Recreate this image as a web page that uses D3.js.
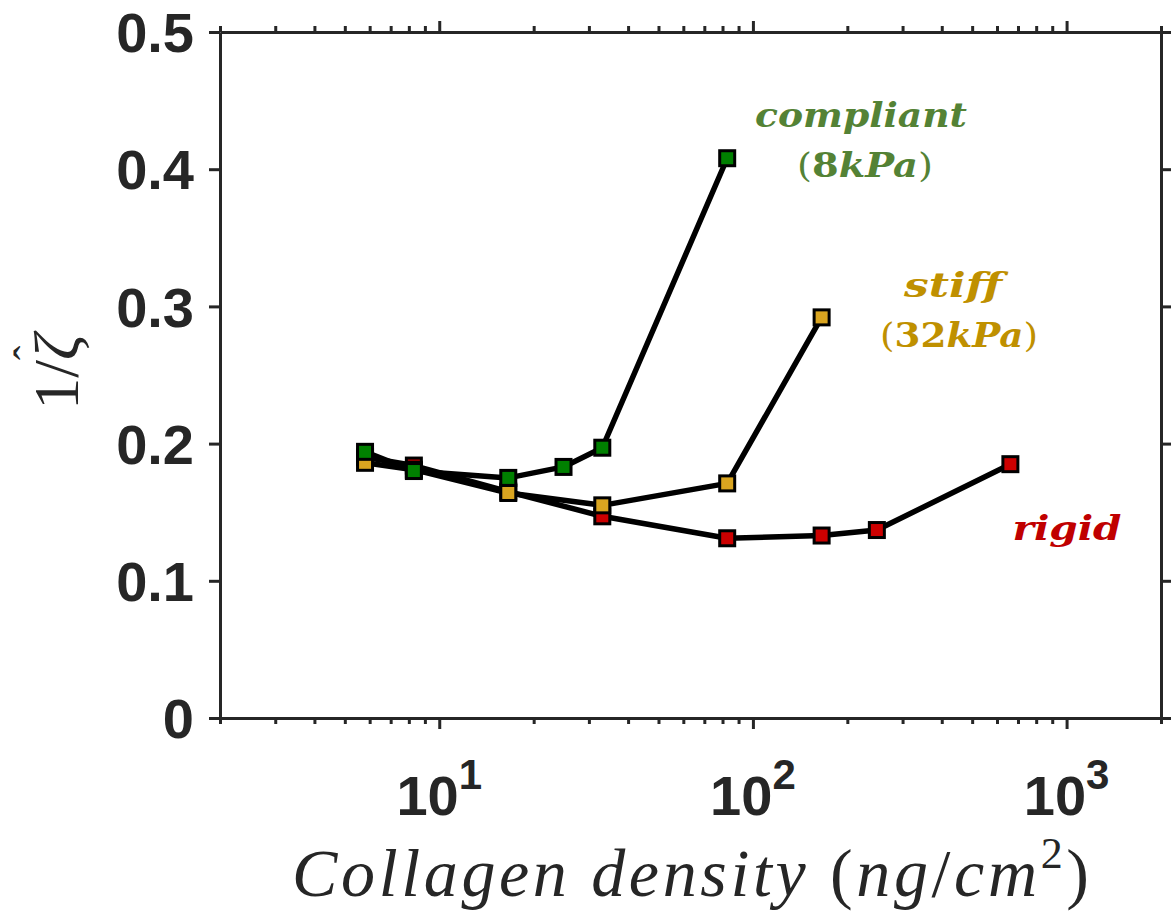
<!DOCTYPE html>
<html>
<head>
<meta charset="utf-8">
<script src="https://cdnjs.cloudflare.com/ajax/libs/d3/7.8.5/d3.min.js"></script>
<style>
    body { margin: 0; background: #fff; }
    svg { display: block; }
</style>
</head>
<body>
<div id="chart"></div>
<script>
// collagen density (ng/cm^2) and 1/zeta-hat for each substrate
const compliantX = [5.8, 8.3, 16.6, 24.9, 33.1, 82.8];
const compliantY = [0.194, 0.180, 0.175, 0.183, 0.197, 0.408];
const stiffX = [5.8, 8.3, 16.6, 33.1, 82.8, 165.6];
const stiffY = [0.186, 0.181, 0.164, 0.155, 0.171, 0.292];
const rigidX = [5.8, 8.3, 16.6, 33.1, 82.8, 165.6, 248.4, 662];
const rigidY = [0.190, 0.184, 0.165, 0.147, 0.131, 0.133, 0.137, 0.185];

const yTicks = [0, 0.1, 0.2, 0.3, 0.4, 0.5];
const yTickLabels = ["0", "0.1", "0.2", "0.3", "0.4", "0.5"];
const xMajor = [10, 100, 1000];
const xMajorExp = ["1", "2", "3"];

const width = 1171;
const height = 912;
const plotLeft = 220, plotRight = 1161, plotTop = 32, plotBottom = 718;
const axisColor = "#262626";

const svg = d3.select("#chart")
    .append("svg")
    .attr("width", width)
    .attr("height", height);

const x = d3.scaleLog().domain([2, 2000]).range([plotLeft, plotRight]);
const y = d3.scaleLinear().domain([0, 0.5]).range([plotBottom, plotTop]);

const minorTicks = x.ticks().filter(v => !xMajor.includes(v));

function styleAxis(g) {
    g.select(".domain").attr("stroke", axisColor).attr("stroke-width", 3);
    g.selectAll(".tick line").attr("stroke", axisColor).attr("stroke-width", 3);
    g.selectAll(".tick text").remove();
}

// bottom axis
svg.append("g")
    .attr("transform", `translate(0,${plotBottom})`)
    .call(d3.axisBottom(x).tickValues(minorTicks).tickSize(6).tickSizeOuter(0))
    .call(styleAxis);
svg.append("g")
    .attr("transform", `translate(0,${plotBottom})`)
    .call(d3.axisBottom(x).tickValues(xMajor).tickSize(11).tickSizeOuter(0))
    .call(styleAxis)
    .select(".domain").remove();

// top axis
svg.append("g")
    .attr("transform", `translate(0,${plotTop})`)
    .call(d3.axisTop(x).tickValues(minorTicks).tickSize(6).tickSizeOuter(0))
    .call(styleAxis);
svg.append("g")
    .attr("transform", `translate(0,${plotTop})`)
    .call(d3.axisTop(x).tickValues(xMajor).tickSize(11).tickSizeOuter(0))
    .call(styleAxis)
    .select(".domain").remove();

// left and right axes
svg.append("g")
    .attr("transform", `translate(${plotLeft},0)`)
    .call(d3.axisLeft(y).tickValues(yTicks).tickSize(11).tickSizeOuter(0))
    .call(styleAxis);
svg.append("g")
    .attr("transform", `translate(${plotRight},0)`)
    .call(d3.axisRight(y).tickValues(yTicks).tickSize(11).tickSizeOuter(0))
    .call(styleAxis);

// y tick labels
svg.selectAll(".ylab")
    .data(yTicks)
    .enter().append("text")
    .attr("class", "ylab")
    .attr("x", 194)
    .attr("y", d => y(d))
    .attr("dy", "0.36em")
    .attr("text-anchor", "end")
    .style("font-family", "Liberation Sans, Arial, sans-serif")
    .style("font-weight", "bold")
    .style("font-size", "56px")
    .style("fill", axisColor)
    .text((d, i) => yTickLabels[i]);

// x tick labels 10^n
xMajor.forEach((v, i) => {
    const t = svg.append("text")
        .attr("x", x(v))
        .attr("y", 815)
        .attr("text-anchor", "middle")
        .style("font-family", "Liberation Sans, Arial, sans-serif")
        .style("font-weight", "bold")
        .style("fill", axisColor);
    t.append("tspan").style("font-size", "56px").text("10");
    t.append("tspan").style("font-size", "42px").attr("dy", -26).text(xMajorExp[i]);
});

// lines and markers
const series = [
    { xs: rigidX, ys: rigidY, color: "#CC0000" },
    { xs: stiffX, ys: stiffY, color: "#DAA520" },
    { xs: compliantX, ys: compliantY, color: "#008000" }
];

const line = d3.line().x(d => x(d[0])).y(d => y(d[1]));

series.forEach(s => {
    const pts = s.xs.map((v, i) => [v, s.ys[i]]);
    svg.append("path")
        .datum(pts)
        .attr("d", line)
        .attr("fill", "none")
        .attr("stroke", "#000")
        .attr("stroke-width", 5.5)
        .attr("stroke-linejoin", "round");
    svg.selectAll(null)
        .data(pts)
        .enter().append("rect")
        .attr("x", d => x(d[0]) - 7.5)
        .attr("y", d => y(d[1]) - 7.5)
        .attr("width", 15)
        .attr("height", 15)
        .attr("fill", s.color)
        .attr("stroke", "#000")
        .attr("stroke-width", 3);
});

// annotations
function mathLabel(cx, by, color, parts, len) {
    const t = svg.append("text")
        .attr("x", cx)
        .attr("y", by)
        .attr("text-anchor", "middle")
        .style("font-family", "DejaVu Serif, serif")
        .style("font-size", "33px")
        .style("fill", color);
    if (len) t.attr("textLength", len).attr("lengthAdjust", "spacingAndGlyphs");
    parts.forEach(p => {
        t.append("tspan")
            .style("font-style", p.italic ? "italic" : "normal")
            .style("font-weight", p.bold ? "bold" : "normal")
            .text(p.s);
    });
}

mathLabel(861, 127, "#548235", [{ s: "compliant", italic: true, bold: true }], 212);
mathLabel(865, 177, "#548235", [{ s: "(" }, { s: "8", bold: true }, { s: "kPa", italic: true, bold: true }, { s: ")" }], 136);
mathLabel(953, 297, "#BF9000", [{ s: "stiff", italic: true, bold: true }], 98);
mathLabel(959, 347, "#BF9000", [{ s: "(" }, { s: "32", bold: true }, { s: "kPa", italic: true, bold: true }, { s: ")" }], 158);
mathLabel(1067, 540, "#C00000", [{ s: "rigid", italic: true, bold: true }], 109);

// axis titles
const xt = svg.append("text")
    .attr("x", (plotLeft + plotRight) / 2)
    .attr("y", 896)
    .attr("text-anchor", "middle")
    .attr("textLength", 797)
    .attr("lengthAdjust", "spacing")
    .style("font-family", "Liberation Serif, serif")
    .style("font-size", "68px")
    .style("fill", axisColor);
xt.append("tspan").style("font-style", "italic").text("Collagen density ");
xt.append("tspan").text("(");
xt.append("tspan").style("font-style", "italic").text("ng");
xt.append("tspan").text("/");
xt.append("tspan").style("font-style", "italic").text("cm");
xt.append("tspan").attr("dy", -28).style("font-size", "44px").text("2");
xt.append("tspan").attr("dy", 28).text(")");

const yt = svg.append("text")
    .attr("transform", "translate(78,372) rotate(-90)")
    .attr("text-anchor", "middle")
    .style("font-family", "Liberation Serif, serif")
    .style("font-size", "64px")
    .style("fill", axisColor);
yt.append("tspan").text("1/");
yt.append("tspan").style("font-style", "italic").text("\u03B6");
yt.append("tspan").attr("dx", -26).attr("dy", -34).style("font-size", "44px").text("\u02C6");
</script>
</body>
</html>
